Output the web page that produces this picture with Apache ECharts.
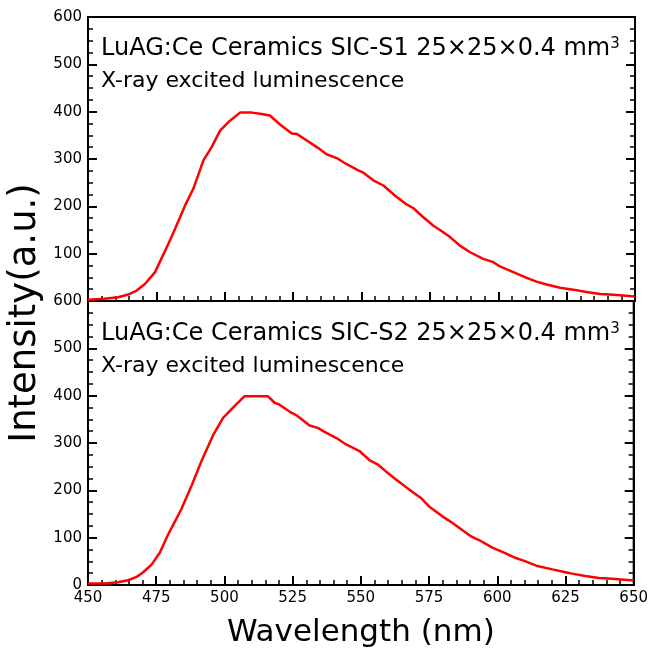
<!DOCTYPE html>
<html>
<head>
<meta charset="utf-8">
<script src="https://cdn.jsdelivr.net/npm/echarts@6/dist/echarts.min.js"></script>
<style>html,body{margin:0;padding:0;background:#fff}#c{width:651px;height:651px}</style>
</head>
<body>
<div id="c"></div>
<script>
// Sample SIC-S1 (top panel)
var wl1 = [450, 456, 461, 464.7, 467.8, 470.8, 474.5, 479.4, 481.8, 485.5, 488.5, 492.2, 495.2, 498.3, 501.9, 505.6, 509.9, 513.5, 516.5, 520.2, 524.5, 526.3, 530, 534.2, 537.2, 540.9, 544.6, 548.8, 550.7, 554.3, 558, 562.2, 566.5, 569, 572.6, 576.3, 578.7, 582.4, 586, 589.7, 594.5, 598.2, 600.6, 605.5, 610.4, 614, 617.7, 622.6, 627.4, 632.3, 637.2, 642.1, 650];
var int1 = [2.5, 4.6, 8, 13.7, 22, 36, 61, 121, 152, 202, 237, 297, 325, 360, 381, 398, 398, 395, 392, 373, 354, 353, 339, 323, 310, 302, 289, 276, 271, 255, 244, 223, 204, 196, 177, 159, 150, 135, 117, 103, 89, 82, 73, 61, 49, 41, 35, 28, 24, 19, 15, 13, 9.5];
// Sample SIC-S2 (bottom panel)
var wl2 = [450, 456, 461, 464.7, 467.8, 470.2, 473.3, 476.3, 479.4, 484.2, 487.9, 491.6, 495.8, 499.5, 503.7, 507.4, 515.9, 518.4, 520.2, 524.5, 526.3, 531.2, 534.2, 537.2, 540.9, 544.6, 549.5, 553.1, 556.1, 559.2, 562.9, 567.7, 572, 575, 579.9, 583.6, 586, 590.3, 593.3, 598.2, 603.1, 606.8, 610.4, 614.7, 620.2, 625, 627.4, 632.3, 637.2, 642.1, 650];
var int2 = [3, 3, 6, 10, 17, 27, 43, 68, 107, 160, 209, 262, 316, 353, 378, 399, 399, 385, 381, 364, 359, 337, 332, 322, 311, 297, 283, 264, 255, 240, 223, 202, 184, 166, 145, 131, 121, 103, 95, 79, 67, 57, 50, 40, 33, 27, 24, 19, 15, 13, 9.5];

var xMin = 450, xMax = 650, xStep = 25;
var yMin = 0, yMax = 600, yStep = 100;
var title1 = 'LuAG:Ce Ceramics SIC-S1 25×25×0.4 mm';
var title2 = 'LuAG:Ce Ceramics SIC-S2 25×25×0.4 mm';
var subTitle = 'X-ray excited luminescence';
var xName = 'Wavelength (nm)';
var yName = 'Intensity(a.u.)';

var FONT = 'DejaVu Sans';
function zip(a, b) { return a.map(function (v, i) { return [v, b[i]]; }); }

var tickStyle = { color: '#000', width: 2 };
function xAxis(grid, labels) {
  return {
    type: 'value', gridIndex: grid, min: xMin, max: xMax, interval: xStep,
    axisLine: { show: true, lineStyle: { color: '#000', width: 2 } },
    axisTick: { show: true, inside: true, length: 9, lineStyle: tickStyle },
    minorTick: { show: true, splitNumber: 5, length: 5, lineStyle: { color: '#000', width: 1.5 } },
    splitLine: { show: false },
    axisLabel: { show: labels, color: '#000', fontSize: 15, fontFamily: FONT, margin: 6 },
    name: labels ? xName : '', nameLocation: 'middle', nameGap: 32,
    nameTextStyle: { color: '#000', fontSize: 31, fontFamily: FONT }
  };
}
function yAxis(grid, pos, labels, showMin) {
  return {
    type: 'value', gridIndex: grid, position: pos, min: yMin, max: yMax, interval: yStep,
    axisLine: { show: true, onZero: false, lineStyle: { color: '#000', width: 2 } },
    axisTick: { show: true, inside: true, length: 9, lineStyle: tickStyle },
    minorTick: { show: true, splitNumber: 4, length: 5, lineStyle: { color: '#000', width: 1.5 } },
    splitLine: { show: false },
    axisLabel: { show: labels, showMinLabel: showMin, color: '#000', fontSize: 15, fontFamily: FONT, margin: 6 }
  };
}

function annot(y0, t) {
  return [
    { type: 'text', left: 101, top: y0, style: {
      text: '{a|' + t + '}{s|3}',
      rich: { a: { fontSize: 24, fontFamily: FONT, fill: '#000' },
              s: { fontSize: 15, fontFamily: FONT, fill: '#000', verticalAlign: 'top' } }
    } },
    { type: 'text', left: 101, top: y0 + 33, style: { text: subTitle, fontSize: 22, fontFamily: FONT, fill: '#000' } }
  ];
}

var lineStyle = { color: '#ff0000', width: 2.5 };
var chart = echarts.init(document.getElementById('c'), null, { renderer: 'canvas' });
chart.setOption({
  animation: false,
  backgroundColor: '#fff',
  grid: [
    { left: 88, top: 17, width: 547, height: 284, show: true, borderColor: '#000', borderWidth: 2, backgroundColor: 'transparent' },
    { left: 88, top: 301, width: 547, height: 284, show: true, borderColor: '#000', borderWidth: 2, backgroundColor: 'transparent' }
  ],
  xAxis: [xAxis(0, false), xAxis(1, true)],
  yAxis: [yAxis(0, 'left', true, false), yAxis(0, 'right', false, false), yAxis(1, 'left', true, true), yAxis(1, 'right', false, false)],
  series: [
    { type: 'line', xAxisIndex: 0, yAxisIndex: 0, data: zip(wl1, int1), showSymbol: false, lineStyle: lineStyle },
    { type: 'line', xAxisIndex: 1, yAxisIndex: 2, data: zip(wl2, int2), showSymbol: false, lineStyle: lineStyle }
  ],
  graphic: annot(37, title1).concat(annot(322, title2)).concat([
    { type: 'text', x: 25, y: 313, rotation: Math.PI / 2, style: { text: yName, fontSize: 37, fontFamily: FONT, fill: '#000', align: 'center', verticalAlign: 'middle' } }
  ])
});
</script>
</body>
</html>
